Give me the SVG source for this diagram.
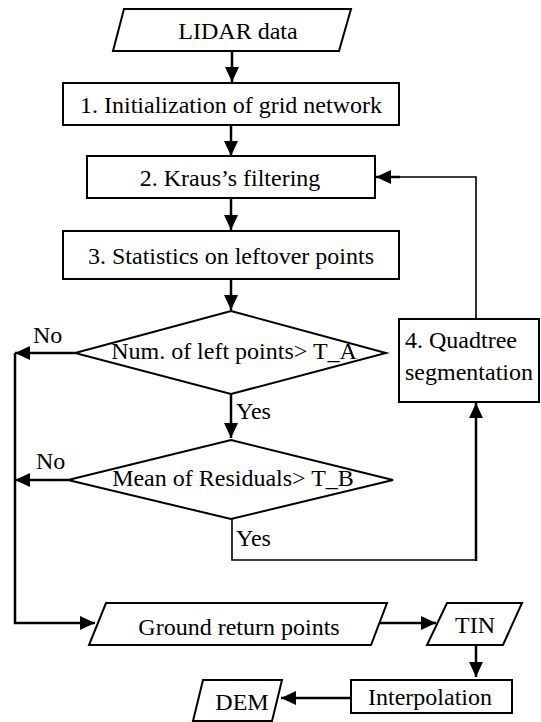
<svg xmlns="http://www.w3.org/2000/svg" width="541" height="722" viewBox="0 0 541 722">
  <style>
    .shape { fill: #ffffff; stroke: #000000; stroke-width: 2; }
    .link { fill: none; stroke: #000000; stroke-width: 2.5; }
    .thin { fill: none; stroke: #000000; stroke-width: 1.6; }
    .c { text-anchor: middle; }
  </style>
  <defs>
    <marker id="arrow" markerUnits="userSpaceOnUse" markerWidth="15" markerHeight="14" refX="15" refY="7" orient="auto">
      <path d="M0,0 L15,7 L0,14 Z" fill="#000000"/>
    </marker>
  </defs>
  <rect width="541" height="722" fill="#ffffff"/>

  <!-- connectors -->
  <g id="connectors">
    <line class="link" x1="232" y1="51" x2="232" y2="82" marker-end="url(#arrow)"/>
    <line class="link" x1="231" y1="125" x2="231" y2="156" marker-end="url(#arrow)"/>
    <line class="link" x1="231" y1="198" x2="231" y2="230" marker-end="url(#arrow)"/>
    <line class="link" x1="231" y1="279" x2="231" y2="310" marker-end="url(#arrow)"/>
    <line class="link" x1="231" y1="394" x2="231" y2="438" marker-end="url(#arrow)"/>
    <!-- No branches to ground return points -->
    <line class="link" x1="75" y1="353" x2="15" y2="353" marker-end="url(#arrow)"/>
    <line class="link" x1="68" y1="480" x2="15" y2="480" marker-end="url(#arrow)"/>
    <polyline class="link" points="15,353 15,623 95,623" marker-end="url(#arrow)"/>
    <!-- Yes branch to quadtree segmentation -->
    <polyline class="thin" points="232,519 232,560 476,560"/>
    <line class="link" x1="476" y1="561" x2="476" y2="403" marker-end="url(#arrow)"/>
    <!-- loop back to filtering -->
    <polyline class="thin" points="476,319 476,177 400,177"/>
    <line class="link" x1="400" y1="177" x2="376" y2="177" marker-end="url(#arrow)"/>
    <!-- output chain -->
    <line class="link" x1="380" y1="623" x2="436" y2="623" marker-end="url(#arrow)"/>
    <line class="link" x1="476" y1="645" x2="476" y2="677" marker-end="url(#arrow)"/>
    <line class="link" x1="351" y1="698" x2="281" y2="698" marker-end="url(#arrow)"/>
  </g>

  <g font-family="Liberation Serif, Times New Roman, serif" font-size="24" fill="#000000">
    <g id="lidar-data">
      <polygon class="shape" points="124,9 351,9 339,51 113,51"/>
      <text class="c" x="238" y="39">LIDAR data</text>
    </g>

    <g id="grid-init">
      <rect class="shape" x="63" y="83" width="336" height="42"/>
      <text class="c" x="231" y="113">1. Initialization of grid network</text>
    </g>

    <g id="kraus-filter">
      <rect class="shape" x="87" y="156" width="288" height="42"/>
      <text class="c" x="230" y="186">2. Kraus’s filtering</text>
    </g>

    <g id="statistics">
      <rect class="shape" x="63" y="231" width="336" height="48"/>
      <text class="c" x="231" y="264">3. Statistics on leftover points</text>
    </g>

    <g id="check-count">
      <polygon class="shape" points="231,311 386,353 231,394 75,353"/>
      <text class="c" x="234" y="359">Num. of left points&gt; T_A</text>
      <text x="33" y="343">No</text>
      <text x="236" y="419">Yes</text>
    </g>

    <g id="check-residuals">
      <polygon class="shape" points="231,440 393,480 231,519 68,480"/>
      <text class="c" x="233" y="486">Mean of Residuals&gt; T_B</text>
      <text x="36" y="469">No</text>
      <text x="236" y="546">Yes</text>
    </g>

    <g id="quadtree">
      <rect class="shape" x="399" y="319" width="140" height="83"/>
      <text x="405" y="348">4. Quadtree</text>
      <text x="405" y="380">segmentation</text>
    </g>

    <g id="ground-points">
      <polygon class="shape" points="106,603 387,603 371,645 89,645"/>
      <text class="c" x="239" y="635">Ground return points</text>
    </g>

    <g id="tin">
      <polygon class="shape" points="447,603 522,603 503,645 427,645"/>
      <text class="c" x="475" y="633">TIN</text>
    </g>

    <g id="interpolation">
      <rect class="shape" x="351" y="680" width="161" height="33"/>
      <text class="c" x="430" y="705">Interpolation</text>
    </g>

    <g id="dem">
      <polygon class="shape" points="203,680 282,680 272,721 193,721"/>
      <text class="c" x="242" y="710">DEM</text>
    </g>
  </g>
</svg>
